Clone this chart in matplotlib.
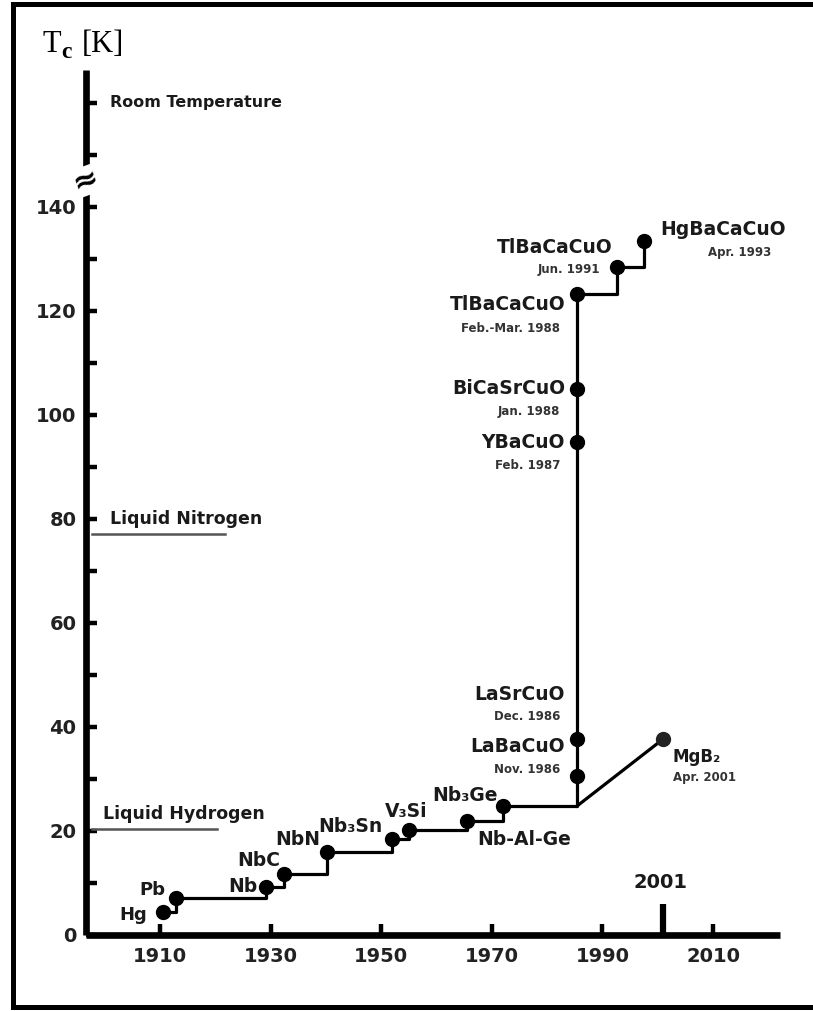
import numpy as np
import matplotlib.pyplot as plt
from matplotlib.lines import Line2D

# datos (anio, Tc en K)
nombres = ['Hg', 'Pb', 'Nb', 'NbC', 'NbN', 'Nb₃Sn', 'V₃Si', 'Nb-Al-Ge', 'Nb₃Ge',
           'LaBaCuO', 'LaSrCuO', 'YBaCuO', 'BiCaSrCuO', 'TlBaCaCuO', 'TlBaCaCuO',
           'HgBaCaCuO']
anios = [1910.5, 1912.9, 1929.2, 1932.4, 1940.2, 1952.0, 1955.0, 1965.5, 1972.0,
         1985.4, 1985.4, 1985.4, 1985.4, 1985.4, 1992.6, 1997.5]
tc = [4.4, 7.1, 9.2, 11.7, 16.0, 18.5, 20.2, 22.0, 24.8,
      30.6, 37.7, 94.8, 105.0, 123.3, 128.5, 133.5]
fechas = {'LaBaCuO': 'Nov. 1986', 'LaSrCuO': 'Dec. 1986', 'YBaCuO': 'Feb. 1987',
          'BiCaSrCuO': 'Jan. 1988'}

mgb2_anio = 2001.0
mgb2_tc = 37.7

# referencias de temperatura
t_nitrogeno = 77
t_hidrogeno = 20.3
t_ambiente = 160   # posicion en el tramo cortado del eje

x_ticks = [1910, 1930, 1950, 1970, 1990, 2010]
y_ticks = [0, 20, 40, 60, 80, 100, 120, 140]
y_minor = [10, 30, 50, 70, 90, 110, 130, 150, 160]

#%%
fig = plt.figure(figsize=(8.13, 10.11), dpi=100)
ax = fig.add_axes([86/813, 76/1011, 694/813, 865/1011])
ax.set_xlim(1896.6, 2022.1)
ax.set_ylim(0, 166.3)

for lado in ['top', 'right']:
    ax.spines[lado].set_visible(False)
for lado in ['left', 'bottom']:
    ax.spines[lado].set_linewidth(4.8)
    ax.spines[lado].set_capstyle('butt')

ax.set_xticks(x_ticks)
ax.set_yticks(y_ticks)
ax.set_yticks(y_minor, minor=True)
ax.tick_params(axis='both', which='both', direction='in', length=8, width=3.2,
               labelsize=14)
ax.tick_params(axis='y', pad=7)
ax.tick_params(axis='x', pad=9)
for lbl in ax.get_xticklabels() + ax.get_yticklabels():
    lbl.set_fontweight('bold')
    lbl.set_color('#222222')

# escalera de records
ax.step(anios, tc, where='post', color='black', lw=2.3, zorder=3)
ax.plot(anios, tc, 'o', ms=10, color='black', zorder=4)
# rama del MgB2
i_nb3ge = nombres.index('Nb₃Ge')
i_cupr = nombres.index('LaBaCuO')
ax.plot([anios[i_cupr], mgb2_anio], [tc[i_nb3ge], mgb2_tc], color='black', lw=2.3, zorder=3)
ax.plot([mgb2_anio], [mgb2_tc], 'o', ms=10, color='#222222', zorder=4)

fb = dict(fontweight='bold', color='#1a1a1a')
# etiquetas de los materiales clasicos
ax.text(1907.6, 3.9, 'Hg', ha='right', va='center', fontsize=13, **fb)
ax.text(1910.9, 8.7, 'Pb', ha='right', va='center', fontsize=13, **fb)
ax.text(1927.7, 9.4, 'Nb', ha='right', va='center', fontsize=13.5, zorder=5, **fb)
ax.text(1931.7, 14.4, 'NbC', ha='right', va='center', fontsize=13.5, **fb)
ax.text(1938.9, 18.3, 'NbN', ha='right', va='center', fontsize=13.5, **fb)
ax.text(1950.3, 20.8, 'Nb₃Sn', ha='right', va='center', fontsize=13.5, **fb)
ax.text(1950.6, 23.7, 'V₃Si', ha='left', va='center', fontsize=13.5, **fb)
ax.text(1971.1, 26.9, 'Nb₃Ge', ha='right', va='center', fontsize=13.5, **fb)
ax.text(1967.3, 18.3, 'Nb-Al-Ge', ha='left', va='center', fontsize=13.5, **fb)

# cupratos
for nom, y, yf in [('LaBaCuO', 36.2, 31.9), ('LaSrCuO', 46.2, 42.1),
                   ('YBaCuO', 94.6, 90.2), ('BiCaSrCuO', 105.0, 100.6)]:
    ax.text(1983.2, y, nom, ha='right', va='center', fontsize=13.5, **fb)
    ax.text(1982.3, yf, fechas[nom], ha='right', va='center', fontsize=8.5,
            fontweight='bold', color='#333333')
ax.text(1983.4, 121.2, 'TlBaCaCuO', ha='right', va='center', fontsize=13.5, **fb)
ax.text(1982.3, 116.6, 'Feb.-Mar. 1988', ha='right', va='center', fontsize=8.5,
        fontweight='bold', color='#333333')
ax.text(1991.9, 132.1, 'TlBaCaCuO', ha='right', va='center', fontsize=13.5, **fb)
ax.text(1989.6, 127.9, 'Jun. 1991', ha='right', va='center', fontsize=8.5,
        fontweight='bold', color='#333333')
ax.text(2000.4, 135.6, 'HgBaCaCuO', ha='left', va='center', fontsize=13.5, **fb)
ax.text(2009.1, 131.3, 'Apr. 1993', ha='left', va='center', fontsize=8.5,
        fontweight='bold', color='#333333')
ax.text(2002.6, 34.2, 'MgB₂', ha='left', va='center', fontsize=12, **fb)
ax.text(2002.8, 30.2, 'Apr. 2001', ha='left', va='center', fontsize=8.5,
        fontweight='bold', color='#333333')

# marca del 2001
ax.plot([mgb2_anio, mgb2_anio], [0, 6], color='black', lw=4.5, solid_capstyle='butt')
ax.text(2000.4, 10, '2001', ha='center', va='center', fontsize=14, **fb)

# temperaturas de referencia
ax.plot([1897.7, 1921.8], [t_nitrogeno, t_nitrogeno], color='#555555', lw=1.8)
ax.text(1901, 80, 'Liquid Nitrogen', ha='left', va='center', fontsize=12.5, **fb)
ax.plot([1897.7, 1920.3], [t_hidrogeno, t_hidrogeno], color='#555555', lw=1.8)
ax.text(1899.7, 23.3, 'Liquid Hydrogen', ha='left', va='center', fontsize=12.5, **fb)
ax.text(1901, t_ambiente, 'Room Temperature', ha='left', va='center', fontsize=11.5, **fb)

# corte del eje
ax.text(0, 145, '≈', transform=ax.get_yaxis_transform(), ha='center', va='center',
        fontsize=22, fontweight='bold', rotation=20,
        bbox=dict(facecolor='white', edgecolor='none', pad=0))

# titulo del eje (T, subindice c y unidad por separado)
fig.text(42/813, 1 - 44/1011, 'T', family='Liberation Serif', fontsize=22,
         ha='left', va='center')
fig.text(61/813, 1 - 52/1011, 'c', family='Liberation Serif', fontsize=17,
         fontweight='bold', ha='left', va='center')
fig.text(82/813, 1 - 44/1011, '[K]', family='Liberation Serif', fontsize=22,
         ha='left', va='center')

# marco exterior
for xs, ys in [([12.5, 830], [1007, 1007]), ([12.5, 830], [4, 4]), ([12.5, 12.5], [4, 1007])]:
    fig.add_artist(Line2D([v/813 for v in xs], [1 - v/1011 for v in ys],
                          color='black', lw=3.6, solid_capstyle='projecting'))

fig.savefig('out.png', dpi=100)
